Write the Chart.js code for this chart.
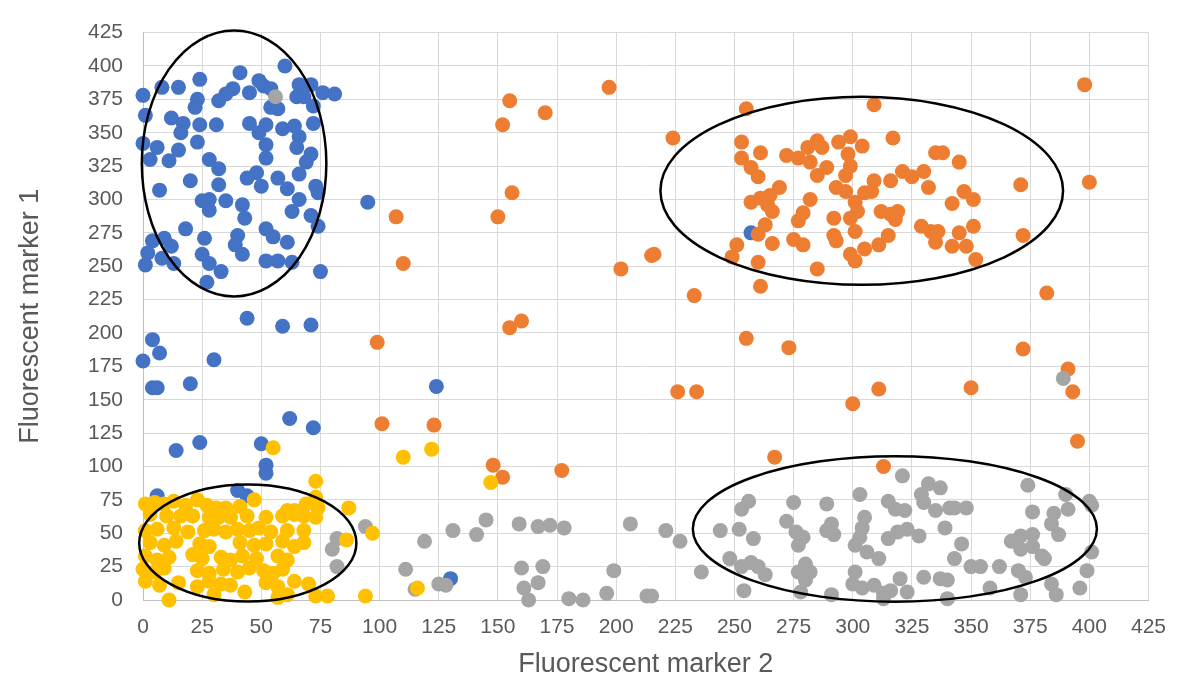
<!DOCTYPE html>
<html>
<head>
<meta charset="utf-8">
<script src="https://cdn.jsdelivr.net/npm/chart.js@4.4.1/dist/chart.umd.min.js"></script>
<style>
  html, body { margin: 0; padding: 0; background: #fff; }
  #wrap { width: 1181px; height: 684px; position: relative; }
</style>
</head>
<body>
<div id="wrap"><canvas id="scatter"></canvas></div>
<script>
// axis ticks
var xTicks = [0, 25, 50, 75, 100, 125, 150, 175, 200, 225, 250, 275, 300, 325, 350, 375, 400, 425];
var yTicks = [0, 25, 50, 75, 100, 125, 150, 175, 200, 225, 250, 275, 300, 325, 350, 375, 400, 425];

// series 1 (blue)
var blue = [[60,400],[41,395],[24,390],[8,384],[15,384],[0,378],[1,363],[49,389],[51,385],[54,383],[54,369],[57,368],
  [66,386],[71,386],[65,377],[68,377],[72,370],[76,380],[81,379],[38,383],[35,379],[32,374],[45,380],[23,375],[22,369],
  [12,361],[17,357],[24,356],[31,356],[16,350],[23,343],[45,357],[52,356],[49,350],[52,341],[52,331],[59,353],[64,355],
  [66,347],[65,339],[72,357],[71,334],[69,328],[0,342],[6,339],[3,330],[11,329],[15,337],[28,330],[32,323],[20,314],
  [32,311],[44,316],[48,320],[50,310],[57,316],[61,308],[66,319],[73,310],[74,305],[7,307],[25,299],[28,300],[35,299],
  [28,292],[42,296],[43,286],[66,300],[63,291],[71,288],[74,280],[18,278],[52,278],[55,272],[61,268],[40,273],[39,266],
  [42,259],[26,271],[4,269],[9,271],[12,265],[2,260],[8,256],[1,251],[13,252],[25,259],[28,252],[33,246],[52,254],
  [57,254],[63,253],[75,246],[27,238],[44,211],[59,205],[71,206],[4,195],[7,185],[0,179],[30,180],[4,159],[6,159],
  [20,162],[62,136],[72,129],[14,112],[24,118],[50,117],[52,101],[52,95],[6,78],[40,82],[44,78],[95,298],[124,160],
  [130,16],[257,275]];

// series 2 (orange)
var orange = [[197,384],[155,374],[170,365],[152,356],[156,305],[150,287],[107,287],[110,252],[202,248],[215,258],
  [155,204],[160,209],[99,193],[101,132],[123,131],[148,101],[152,92],[177,97],
  [398,386],[255,368],[309,371],[224,346],[253,343],[261,335],[253,331],[257,324],[260,317],[272,333],[277,331],
  [281,339],[285,344],[287,339],[282,328],[285,318],[289,324],[294,343],[299,347],[304,340],[298,334],[299,325],
  [297,318],[293,309],[297,306],[301,298],[302,291],[305,305],[309,314],[308,306],[317,346],[316,314],[321,321],
  [325,317],[330,321],[332,309],[335,335],[338,335],[345,328],[371,311],[400,313],[269,309],[265,303],[261,301],
  [257,298],[264,296],[266,291],[263,281],[260,274],[251,266],[249,257],[260,253],[261,235],[233,228],[216,259],
  [282,300],[279,290],[277,284],[266,267],[275,270],[279,266],[292,286],[292,273],[293,269],[299,286],[301,276],
  [299,259],[301,254],[305,263],[311,266],[315,273],[312,291],[316,289],[319,291],[318,285],[285,248],[329,280],
  [333,276],[336,276],[335,268],[342,297],[347,306],[351,300],[351,280],[345,275],[342,265],[348,265],[352,255],
  [372,273],[382,230],
  [255,196],[273,189],[372,188],[391,173],[393,156],[395,119],[226,156],[234,156],[300,147],[311,158],[350,159],
  [267,107],[313,100]];

// series 3 (grey)
var grey = [[56,377],[389,166],[94,55],[119,44],[131,52],[141,49],[145,60],[159,57],[167,55],[172,56],[178,54],
  [206,57],[111,23],[115,8],[125,12],[128,11],[160,24],[169,25],[167,13],[161,9],[163,0],[180,1],[186,0],[196,5],
  [199,22],[213,3],[82,46],[80,38],[82,25],
  [321,93],[332,87],[337,84],[329,79],[330,73],[335,67],[374,86],[390,79],[400,74],[401,71],[376,66],[385,65],
  [391,68],[384,57],[387,49],[367,44],[371,48],[376,49],[376,40],[371,38],[380,33],[381,31],[401,36],[399,22],
  [396,9],[386,4],[384,12],[371,4],[373,17],[370,22],[362,25],[358,9],[354,25],[350,25],[343,31],[346,42],[339,54],
  [341,69],[343,69],[348,69],[340,15],[337,16],[330,17],[340,1],[328,48],[323,53],[319,51],[315,46],[315,74],
  [318,68],[322,67],[303,79],[289,72],[305,62],[304,54],[303,47],[301,41],[306,36],[311,31],[291,57],[289,52],
  [292,49],[279,47],[277,41],[275,73],[272,59],[276,51],[256,74],[253,68],[252,53],[244,52],[258,46],[248,31],
  [253,25],[257,28],[260,25],[263,19],[254,7],[280,27],[277,21],[282,21],[280,15],[278,6],[291,4],[301,21],
  [300,12],[304,9],[309,11],[313,5],[316,7],[320,16],[323,6],[313,1],[221,52],[227,44],[236,21],[215,3]];

// series 4 (yellow)
var yellow = [[1,72],[5,73],[9,72],[13,74],[18,71],[23,75],[27,71],[31,69],[35,69],[41,70],[61,67],[64,67],[69,72],[74,69],
  [3,64],[10,63],[16,63],[21,63],[28,62],[32,62],[37,62],[44,63],[52,62],[59,63],[64,64],[68,63],[73,62],
  [1,52],[6,53],[13,54],[19,51],[26,52],[30,53],[35,51],[40,53],[45,52],[49,54],[54,51],[61,52],[68,52],
  [3,43],[9,41],[14,44],[24,42],[28,40],[41,43],[47,41],[52,42],[59,44],[64,40],[68,43],
  [1,33],[6,30],[11,32],[21,34],[25,31],[33,32],[37,30],[42,33],[48,31],[57,33],[61,30],
  [0,23],[5,21],[9,24],[23,22],[28,20],[34,23],[40,21],[45,24],[51,22],[55,20],[59,23],
  [1,14],[7,11],[15,13],[23,10],[28,14],[33,12],[37,11],[52,13],[57,10],[64,14],[70,12],
  [11,0],[30,4],[43,6],[57,2],[61,4],[73,3],[78,3],
  [55,114],[73,89],[73,77],[47,75],[87,69],[86,45],[97,50],[110,107],[122,113],[147,88],[116,9],[94,3]];

// hand-drawn cluster rings: centre x, centre y, radius x, radius y (data units)
var rings = [[38.5,327,39,99.6],[303.8,306.5,85.1,70.4],[317.8,53.2,85.4,54.5],[44.3,42.7,45.9,43.9]];

function toPoints(arr) {
  return arr.map(function (p) { return { x: p[0], y: p[1] }; });
}

var ringPlugin = {
  id: 'rings',
  afterDatasetsDraw: function (chart) {
    var ctx = chart.ctx, xs = chart.scales.x, ys = chart.scales.y;
    ctx.save();
    ctx.strokeStyle = '#000';
    ctx.lineWidth = 2.5;
    rings.forEach(function (r) {
      var cx = xs.getPixelForValue(r[0]);
      var cy = ys.getPixelForValue(r[1]);
      var rx = Math.abs(xs.getPixelForValue(r[0] + r[2]) - cx);
      var ry = Math.abs(ys.getPixelForValue(r[1] + r[3]) - cy);
      ctx.beginPath();
      ctx.ellipse(cx, cy, rx, ry, 0, 0, Math.PI * 2);
      ctx.stroke();
    });
    ctx.restore();
  }
};

var tickFont = { family: 'Liberation Sans, Arial, sans-serif', size: 21 };
var titleFont = { family: 'Liberation Sans, Arial, sans-serif', size: 27 };

var ctx = document.getElementById('scatter').getContext('2d');
var chart = new Chart(ctx, {
  type: 'scatter',
  data: {
    datasets: [
      { label: 'blue', data: toPoints(blue), backgroundColor: '#4472C4', order: 4 },
      { label: 'orange', data: toPoints(orange), backgroundColor: '#ED7D31', order: 3 },
      { label: 'grey', data: toPoints(grey), backgroundColor: '#A5A5A5', order: 2 },
      { label: 'yellow', data: toPoints(yellow), backgroundColor: '#FFC000', order: 1 }
    ]
  },
  options: {
    responsive: true,
    maintainAspectRatio: false,
    animation: false,
    layout: { padding: { top: 24, right: 31, bottom: 0, left: 0 } },
    elements: { point: { radius: 7.5, borderWidth: 0, hoverRadius: 7.5 } },
    datasets: { scatter: { clip: false } },
    plugins: { legend: { display: false }, tooltip: { enabled: false } },
    scales: {
      x: {
        type: 'linear', min: 0, max: 425,
        afterBuildTicks: function (s) { s.ticks = xTicks.map(function (v) { return { value: v }; }); },
        afterFit: function (s) { s.height = 84; },
        ticks: { font: tickFont, color: '#595959', padding: 15, maxRotation: 0 },
        grid: { color: '#d9d9d9', drawTicks: false },
        border: { color: '#bfbfbf' },
        title: { display: true, text: 'Fluorescent marker 2', font: titleFont, color: '#595959', padding: { top: 0, bottom: 3 } }
      },
      y: {
        type: 'linear', min: 0, max: 425,
        afterBuildTicks: function (s) { s.ticks = yTicks.map(function (v) { return { value: v }; }); },
        afterFit: function (s) { s.width = 143; },
        ticks: { font: tickFont, color: '#595959', padding: 20 },
        grid: { color: '#d9d9d9', drawTicks: false },
        border: { color: '#bfbfbf' },
        title: { display: true, text: 'Fluorescent marker 1', font: titleFont, color: '#595959', padding: { top: 14, bottom: 0 } }
      }
    }
  },
  plugins: [ringPlugin]
});
</script>
</body>
</html>
